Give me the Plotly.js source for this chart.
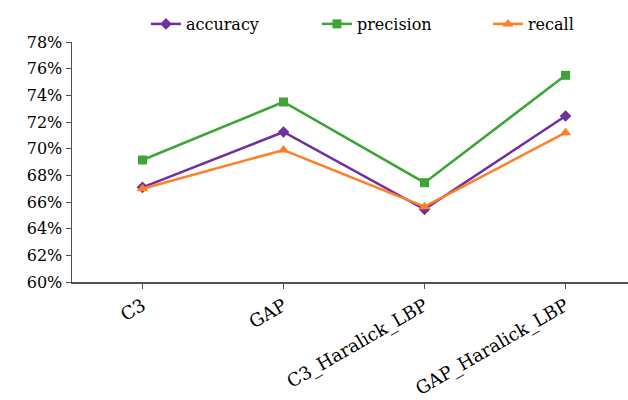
<!DOCTYPE html>
<html><head><meta charset="utf-8">
<script src="https://cdn.plot.ly/plotly-3.0.1.min.js"></script>
<style>html,body{margin:0;padding:0;background:#fff}</style>
</head><body><div id="chart" style="width:628px;height:400px"></div>
<script>
const categories = ["C3", "GAP", "C3_Haralick_LBP", "GAP_Haralick_LBP"];
const accuracy = [67.1, 71.25, 65.45, 72.45];
const precision = [69.15, 73.5, 67.45, 75.5];
const recall = [67.0, 69.9, 65.65, 71.2];
const yTicks = [60, 62, 64, 66, 68, 70, 72, 74, 76, 78];
const yTickText = yTicks.map(v => v + "%");

const font = {family: "DejaVu Serif", size: 16, color: "#000"};
const xfont = {family: "DejaVu Serif", size: 18, color: "#000"};
function tr(name, y, color, symbol, size) {
  return {x: categories, y: y, name: name, type: "scatter", mode: "lines+markers",
    line: {color: color, width: 2.5}, marker: {symbol: symbol, size: size, color: color}};
}
const data = [
  tr("accuracy", accuracy, "#7030A0", "diamond", 9),
  tr("precision", precision, "#3DA535", "square", 9),
  tr("recall", recall, "#FF7F27", "triangle-up", 10)
];
const layout = {
  width: 628, height: 400,
  margin: {l: 72, r: 0, t: 42, b: 118, autoexpand: false},
  paper_bgcolor: "#fff", plot_bgcolor: "#fff",
  font: font,
  showlegend: true,
  legend: {orientation: "h", x: 0.133, xanchor: "left", y: 1.075, yanchor: "middle",
    font: font, entrywidth: 126, entrywidthmode: "pixels", bgcolor: "rgba(0,0,0,0)"},
  xaxis: {type: "category", range: [-0.5, 3.443], showline: true, linecolor: "#505050", linewidth: 1.5,
    ticks: "outside", ticklen: 5, tickcolor: "#505050", showgrid: false, zeroline: false,
    tickangle: -30, tickfont: xfont},
  yaxis: {range: [60, 78], tickvals: yTicks, ticktext: yTickText, showline: true, linecolor: "#505050",
    linewidth: 1.5, ticks: "outside", ticklen: 5, tickcolor: "#505050", showgrid: false, zeroline: false,
    tickfont: font}
};
Plotly.newPlot("chart", data, layout, {staticPlot: true});
</script></body></html>
